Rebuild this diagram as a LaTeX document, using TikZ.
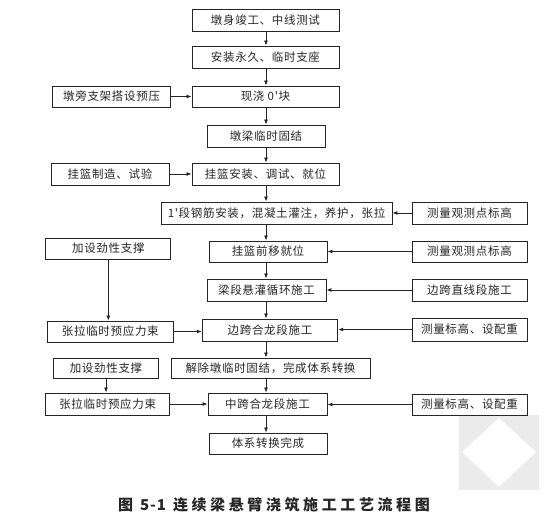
\documentclass[tikz,border=0pt]{standalone}
\usepackage{fontspec}
\usetikzlibrary{arrows.meta}
\newfontfamily\cjk[LetterSpace=6]{Noto Sans CJK SC}
\newfontfamily\cjkcap[LetterSpace=24]{Noto Sans CJK SC}
\begin{document}
\begin{tikzpicture}[x=1pt,y=-1pt,
  boxst/.style={draw=black!85,line width=0.9pt,inner sep=0pt,fill=white,
    font=\cjk\fontsize{11.5}{13}\selectfont,text=black!85},
  arr/.style={line width=0.8pt,draw=black!85,-{Latex[length=5pt,width=4pt]}}]
\useasboundingbox (0,0) rectangle (560,526);
% watermark
\fill[black!8] (459,415) rectangle (539,490);
\fill[white] (462,452) -- (499,418) -- (536,452) -- (499,487) -- cycle;
\coordinate (sp) at (266,0);
% main column
\node[boxst,minimum width=147pt,minimum height=22pt] (b1) at (265.5,20) {墩身竣工、中线测试};
\node[boxst,minimum width=147pt,minimum height=22pt] (b2) at (265.5,57) {安装永久、临时支座};
\node[boxst,minimum width=147pt,minimum height=21pt] (b3) at (265.5,96.5) {现浇 0'块};
\node[boxst,minimum width=118pt,minimum height=22pt] (b4) at (266,136) {墩梁临时固结};
\node[boxst,minimum width=147pt,minimum height=22pt] (b5) at (265.5,174) {挂篮安装、调试、就位};
\node[boxst,minimum width=231pt,minimum height=22pt] (b6) at (276.5,213) {1'段钢筋安装，混凝土灌注，养护，张拉};
\node[boxst,minimum width=118pt,minimum height=21pt] (b7) at (268,251.5) {挂篮前移就位};
\node[boxst,minimum width=119pt,minimum height=22pt] (b8) at (266.5,290) {梁段悬灌循环施工};
\node[boxst,minimum width=135.5pt,minimum height=22pt] (b9) at (270,330) {边跨合龙段施工};
\node[boxst,minimum width=199pt,minimum height=20pt] (b10) at (270.5,368) {解除墩临时固结，完成体系转换};
\node[boxst,minimum width=119pt,minimum height=22pt] (b11) at (267.5,404) {中跨合龙段施工};
\node[boxst,minimum width=118pt,minimum height=21pt] (b12) at (268,443.5) {体系转换完成};
% left column
\node[boxst,minimum width=118pt,minimum height=21pt] (l3) at (111.6,96.5) {墩旁支架搭设预压};
\node[boxst,minimum width=118pt,minimum height=22pt] (l5) at (110,174) {挂篮制造、试验};
\node[boxst,minimum width=125pt,minimum height=21pt] (l7) at (108.3,248.5) {加设劲性支撑};
\node[boxst,minimum width=125.5pt,minimum height=21pt] (l9) at (110.3,331.5) {张拉临时预应力束};
\node[boxst,minimum width=104.6pt,minimum height=20pt] (l10) at (106,368) {加设劲性支撑};
\node[boxst,minimum width=124pt,minimum height=22pt] (l11) at (107.7,404) {张拉临时预应力束};
% right column
\node[boxst,minimum width=115pt,minimum height=22pt] (r6) at (469.5,213) {测量观测点标高};
\node[boxst,minimum width=115pt,minimum height=21pt] (r7) at (469.5,251.5) {测量观测点标高};
\node[boxst,minimum width=115pt,minimum height=22pt] (r8) at (469.5,290) {边跨直线段施工};
\node[boxst,minimum width=115pt,minimum height=23pt] (r9) at (469.5,329.5) {测量标高、设配重};
\node[boxst,minimum width=115pt,minimum height=21pt] (r11) at (469.5,404.5) {测量标高、设配重};
% spine arrows
\foreach \a/\b in {b1/b2,b2/b3,b3/b4,b4/b5,b5/b6,b6/b7,b7/b8,b8/b9,b9/b10,b10/b11,b11/b12}
  \draw[arr] (\a.south -| sp) -- (\b.north -| sp);
% side arrows
\draw[arr] (l3.east) -- (l3.east -| b3.west);
\draw[arr] (l5.east) -- (l5.east -| b5.west);
\draw[arr] (l9.east) -- (l9.east -| b9.west);
\draw[arr] (l11.east) -- (l11.east -| b11.west);
\draw[arr] (r6.west) -- (r6.west -| b6.east);
\draw[arr] (r7.west) -- (r7.west -| b7.east);
\draw[arr] (r8.west) -- (r8.west -| b8.east);
\draw[arr] (r9.west) -- (r9.west -| b9.east);
\draw[arr] (r11.west) -- (r11.west -| b11.east);
\draw[arr] (l7.south) -- (l7.south |- l9.north);
\draw[arr] (l10.south) -- (l10.south |- l11.north);
% caption
\node[inner sep=0pt,font=\cjkcap\bfseries\fontsize{15}{17}\selectfont,text=black!85] (cap) at (274,505) {图 {\cjk 5-1} 连续梁悬臂浇筑施工工艺流程图};
\end{tikzpicture}
\end{document}
